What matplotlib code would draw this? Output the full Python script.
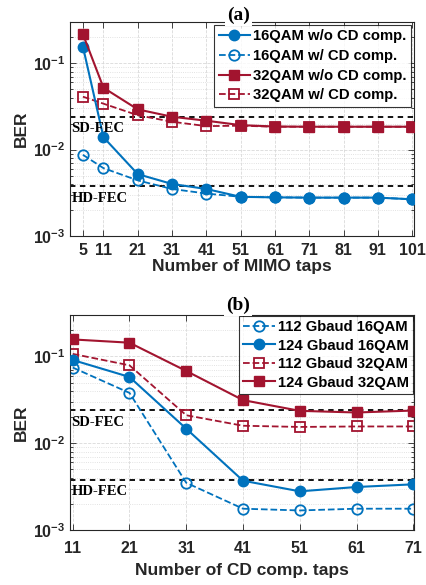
import numpy as np
import matplotlib
matplotlib.use("Agg")
import matplotlib.pyplot as plt
from matplotlib.ticker import LogLocator, NullFormatter, FixedLocator

plt.rcParams['font.family'] = ['Liberation Sans', 'DejaVu Sans']
plt.rcParams['mathtext.fontset'] = 'custom'
plt.rcParams['mathtext.rm'] = 'Liberation Sans:bold'
plt.rcParams['mathtext.bf'] = 'Liberation Sans:bold'

# ---- data, panel (a) ----
mimo_taps = [5, 11, 21, 31, 41, 51, 61, 71, 81, 91, 101]
ber_16_wo = [0.156, 0.0139, 0.0052, 0.0040, 0.0035, 0.00284, 0.0028, 0.00278, 0.00278, 0.00278, 0.00266]
ber_16_w = [0.0087, 0.0061, 0.0044, 0.0035, 0.0031, 0.00284, 0.0028, 0.00278, 0.00278, 0.00278, 0.00266]
ber_32_wo = [0.217, 0.052, 0.0292, 0.0240, 0.0216, 0.0192, 0.0185, 0.0184, 0.0184, 0.0184, 0.0184]
ber_32_w = [0.041, 0.034, 0.025, 0.021, 0.0187, 0.0189, 0.0184, 0.0184, 0.0184, 0.0184, 0.0184]

# ---- data, panel (b) ----
cd_taps = [11, 21, 31, 41, 51, 61, 71]
ber_112_16 = [0.0745, 0.038, 0.0035, 0.00176, 0.00168, 0.00176, 0.00176]
ber_124_16 = [0.091, 0.058, 0.0147, 0.0037, 0.00279, 0.00313, 0.00336]
ber_112_32 = [0.107, 0.079, 0.021, 0.0159, 0.0154, 0.0156, 0.0156]
ber_124_32 = [0.157, 0.144, 0.068, 0.0314, 0.0236, 0.0226, 0.0238]

sd_fec = 2.4e-2
hd_fec = 3.8e-3

blue = '#0072BD'
red = '#A2142F'
grey = '#262626'

fig = plt.figure(figsize=(4.26, 5.85), dpi=100)
ax1 = fig.add_axes([0.164, 0.5966, 0.8075, 0.3658])
ax2 = fig.add_axes([0.164, 0.094, 0.8075, 0.3675])


def style_axis(ax, xticks, xlim, xlabel, tag, tag_y, tpad, lpad):
    ax.set_yscale('log')
    ax.set_ylim(1e-3, 0.3)
    ax.set_xlim(*xlim)
    ax.set_xticks(xticks)
    ax.set_xticklabels([str(t) for t in xticks], fontweight='bold')
    ax.yaxis.set_major_locator(FixedLocator([1e-3, 1e-2, 1e-1]))
    ax.set_yticklabels([r'$\mathbf{10^{-3}}$', r'$\mathbf{10^{-2}}$', r'$\mathbf{10^{-1}}$'])
    ax.yaxis.set_minor_locator(LogLocator(base=10, subs=np.arange(2, 10)))
    ax.yaxis.set_minor_formatter(NullFormatter())
    ax.tick_params(which='both', direction='in', top=True, right=True,
                   colors=grey, labelsize=11.5, width=0.6)
    ax.tick_params(which='major', length=4)
    ax.tick_params(which='minor', length=2)
    ax.tick_params(axis='x', pad=tpad)
    ax.grid(which='major', ls='--', color='#d9d9d9', lw=0.6)
    ax.grid(which='minor', axis='y', ls=':', color='#d9d9d9', lw=0.6)
    ax.set_axisbelow(True)
    for s in ax.spines.values():
        s.set_color(grey)
        s.set_linewidth(0.8)
    ax.set_xlabel(xlabel, fontsize=12.5, fontweight='bold', color=grey, labelpad=lpad)
    ax.set_ylabel('BER', fontsize=12.5, fontweight='bold', color=grey, labelpad=3)
    # FEC thresholds
    ax.axhline(sd_fec, color='k', ls='--', lw=1.3, dashes=(3, 2.5), zorder=1.5)
    ax.axhline(hd_fec, color='k', ls='--', lw=1.3, dashes=(3, 2.5), zorder=1.5)
    x0 = xlim[0] + 0.005 * (xlim[1] - xlim[0])
    ax.text(x0, sd_fec * 0.86, 'SD-FEC', family='Liberation Serif', fontweight='bold',
            fontsize=10.5, va='top', ha='left', color='k')
    ax.text(x0, hd_fec * 0.86, 'HD-FEC', family='Liberation Serif', fontweight='bold',
            fontsize=10.5, va='top', ha='left', color='k')
    ax.text(0.49, tag_y, tag, transform=ax.transAxes, family='Liberation Serif',
            fontweight='bold', fontsize=14, ha='center', va='center', clip_on=False,
            bbox=dict(facecolor='white', edgecolor='none', pad=1.5), zorder=10)


# panel (a)
ax1.plot(mimo_taps, ber_16_wo, '-o', color=blue, lw=1.5, ms=7.5, mfc=blue, label='16QAM w/o CD comp.', zorder=3)
ax1.plot(mimo_taps, ber_16_w, '--o', color=blue, lw=1.3, ms=7.5, mfc='none', mew=1.3, label='16QAM w/ CD comp.', zorder=2.5)
ax1.plot(mimo_taps, ber_32_wo, '-s', color=red, lw=1.5, ms=6.5, mfc=red, label='32QAM w/o CD comp.', zorder=3)
ax1.plot(mimo_taps, ber_32_w, '--s', color=red, lw=1.3, ms=6.5, mfc='none', mew=1.3, label='32QAM w/ CD comp.', zorder=2.5)
style_axis(ax1, mimo_taps, (1.2, 101.5), 'Number of MIMO taps', '(a)', 1.033, 4.8, 1.0)
leg1 = ax1.legend(loc='upper right', prop={'weight': 'bold', 'size': 10.7}, frameon=True,
                  fancybox=False, edgecolor='k', handlelength=2.1, borderaxespad=0.2,
                  labelspacing=0.38, borderpad=0.3, handletextpad=0.2)
leg1.get_frame().set_linewidth(0.8)

# panel (b)
ax2.plot(cd_taps, ber_112_16, '--o', color=blue, lw=1.3, ms=7.5, mfc='none', mew=1.3, label='112 Gbaud 16QAM', zorder=2.5)
ax2.plot(cd_taps, ber_124_16, '-o', color=blue, lw=1.5, ms=7.5, mfc=blue, label='124 Gbaud 16QAM', zorder=3)
ax2.plot(cd_taps, ber_112_32, '--s', color=red, lw=1.3, ms=6.5, mfc='none', mew=1.3, label='112 Gbaud 32QAM', zorder=2.5)
ax2.plot(cd_taps, ber_124_32, '-s', color=red, lw=1.5, ms=6.5, mfc=red, label='124 Gbaud 32QAM', zorder=3)
style_axis(ax2, cd_taps, (10.5, 71.1), 'Number of CD comp. taps', '(b)', 1.047, 7.8, 5.5)
leg2 = ax2.legend(loc='upper right', prop={'weight': 'bold', 'size': 10.7}, frameon=True,
                  fancybox=False, edgecolor='k', handlelength=2.1, borderaxespad=0.05,
                  labelspacing=0.3, borderpad=0.3, handletextpad=0.2)
leg2.get_frame().set_linewidth(0.8)

fig.savefig('out.png', dpi=100)
